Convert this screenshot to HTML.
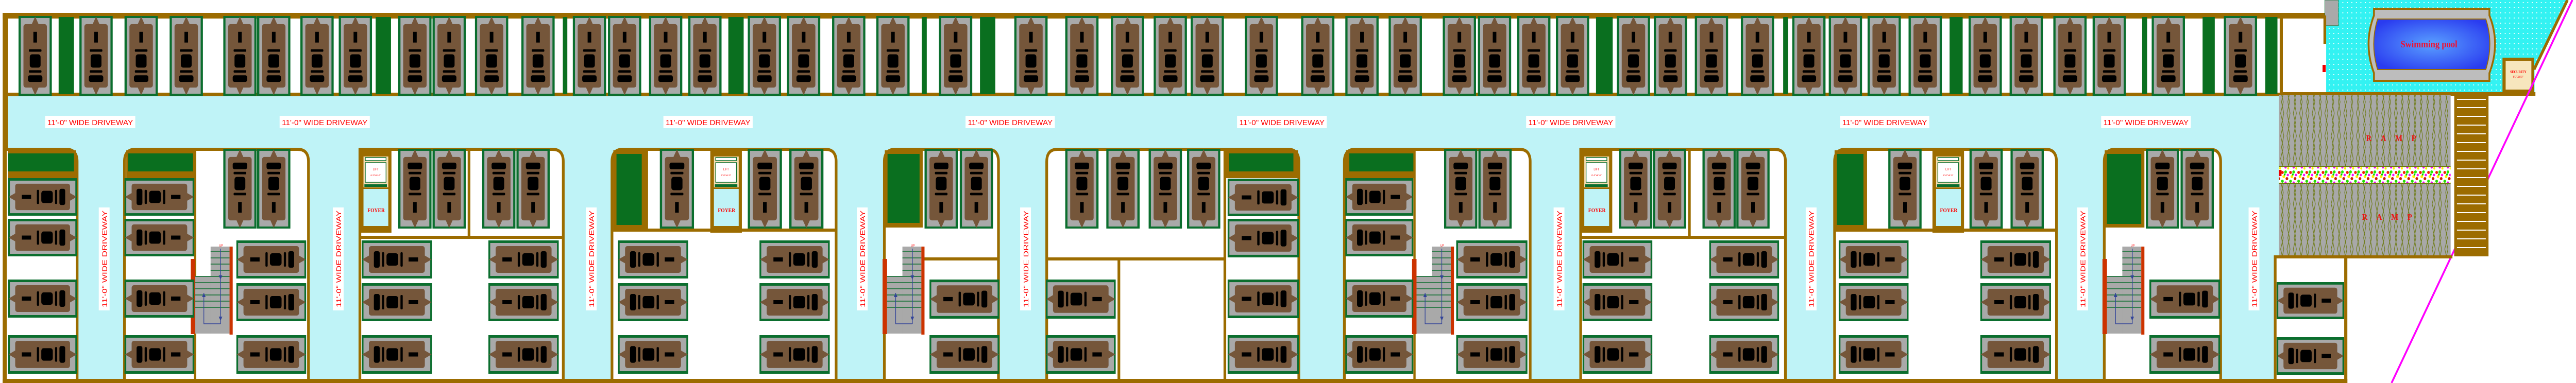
<!DOCTYPE html>
<html><head><meta charset="utf-8"><style>
html,body{margin:0;padding:0;background:#fff;width:100%;height:100%;overflow:hidden}
svg{display:block;overflow:hidden;width:100%;height:100%}
.lb{font-family:"Liberation Sans",Arial,sans-serif;font-size:15px;fill:#ff0000}
</style></head><body>
<svg xmlns="http://www.w3.org/2000/svg" viewBox="0 0 5712 744" preserveAspectRatio="none">
<defs>
<clipPath id="pageclip"><rect width="5712" height="744"/></clipPath>
<g id="cvg">
<rect width="74" height="156" fill="#0b6e2e"/>
<rect x="5" y="4" width="64" height="148" fill="#a9a9a9"/>
<rect x="11" y="16" width="52" height="124" rx="5" fill="#75563a"/>
<path d="M29 17 L37 1 L45 17Z M29 139 L37 155 L45 139Z" fill="#75563a"/>
<rect x="33" y="31" width="8" height="21" fill="#000"/>
<rect x="23" y="65" width="28" height="5" rx="2" fill="#000"/>
<rect x="25" y="75" width="24" height="26" rx="5" fill="#000"/>
<rect x="23" y="106" width="28" height="5" rx="2" fill="#000"/>
<rect x="21" y="116" width="32" height="13" rx="4" fill="#000"/>
</g>
<symbol id="cv" viewBox="0 0 74 156" preserveAspectRatio="none"><use href="#cvg"/></symbol>
<symbol id="cf" viewBox="0 0 74 156" preserveAspectRatio="none"><g transform="translate(0,156) scale(1,-1)"><use href="#cvg"/></g></symbol>
<symbol id="hl" viewBox="0 0 156 74" preserveAspectRatio="none"><g transform="translate(0,74) rotate(-90)"><use href="#cvg"/></g></symbol>
<symbol id="hr" viewBox="0 0 156 74" preserveAspectRatio="none"><g transform="translate(156,0) rotate(90)"><use href="#cvg"/></g></symbol>
<g id="stair">
<rect x="0" y="24" width="10" height="146" fill="#cc3300"/>
<rect x="10" y="57" width="76" height="112" fill="#a9a9a9"/>
<rect x="44" y="0" width="42" height="169" fill="#a9a9a9"/>
<g stroke="#0b6e2e" stroke-width="1.5">
<line x1="44" y1="10" x2="86" y2="10"/><line x1="44" y1="22" x2="86" y2="22"/><line x1="44" y1="34" x2="86" y2="34"/><line x1="44" y1="46" x2="86" y2="46"/>
<line x1="10" y1="58" x2="86" y2="58"/><line x1="10" y1="70" x2="86" y2="70"/><line x1="10" y1="82" x2="86" y2="82"/><line x1="10" y1="94" x2="86" y2="94"/><line x1="10" y1="106" x2="86" y2="106"/><line x1="10" y1="118" x2="86" y2="118"/>
</g>
<rect x="86" y="0" width="7" height="171" fill="#cc3300"/>
<path d="M66 4 V150 M29 90 V150 H66" fill="none" stroke="#334499" stroke-width="1.5"/>
<path d="M62 56 L66 64 L70 56Z M62 136 L66 144 L70 136Z M25 98 L29 90 L33 98Z" fill="#334499"/>
<text x="63" y="0" font-family="Liberation Sans,sans-serif" font-size="6" fill="#f00">UP</text>
</g>
<g id="lift">
<rect x="0" y="0" width="70" height="160" fill="#9c6c00"/>
<rect x="8" y="12" width="55" height="60" fill="#f5deb3"/>
<rect x="12" y="14" width="46" height="6" fill="#fff" stroke="#0b6e2e" stroke-width="1.5"/>
<rect x="12" y="24" width="46" height="38" fill="#fff" stroke="#0b6e2e" stroke-width="1.5"/>
<text x="35" y="39" text-anchor="middle" font-family="Liberation Sans,sans-serif" font-size="6" fill="#f00">LIFT</text>
<text x="35" y="50" text-anchor="middle" font-family="Liberation Sans,sans-serif" font-size="5" fill="#f00">6'-0"x6'-0"</text>
<rect x="10" y="66" width="50" height="5" fill="#0b6e2e"/>
<rect x="8" y="75" width="55" height="72" fill="#bff3f7"/>
<text x="36" y="120" text-anchor="middle" font-family="Liberation Serif,serif" font-weight="bold" font-size="11" fill="#f00">FOYER</text>
</g>
<pattern id="wave" width="14" height="44" patternUnits="userSpaceOnUse">
<rect width="14" height="44" fill="#a8a8a8"/>
<path d="M3 0 L9 22 L3 44 M10 0 L5 22 L10 44" fill="none" stroke="#6b7a10" stroke-width="1.2"/>
</pattern>
<pattern id="flw" width="18" height="30" patternUnits="userSpaceOnUse">
<rect width="18" height="30" fill="#fff"/>
<circle cx="3" cy="5" r="3" fill="#ee2200"/><circle cx="10" cy="4" r="3" fill="#22ee00"/><circle cx="15" cy="10" r="2.5" fill="#ff00ff"/>
<circle cx="6" cy="13" r="3" fill="#ffee00"/><circle cx="13" cy="17" r="3" fill="#cc2200"/><circle cx="3" cy="22" r="3" fill="#22dd00"/>
<circle cx="10" cy="25" r="2.5" fill="#ee00ee"/><circle cx="16" cy="27" r="2.5" fill="#ffee00"/><circle cx="8" cy="9" r="2" fill="#00cc00"/>
</pattern>
<pattern id="dots" width="10" height="10" patternUnits="userSpaceOnUse">
<rect width="10" height="10" fill="#33f2f2"/><rect x="4" y="4" width="2" height="2" fill="#fff"/>
</pattern>
<radialGradient id="pg" cx="0.5" cy="0.5" r="0.6">
<stop offset="0" stop-color="#5aa0ff"/><stop offset="1" stop-color="#2a3cf0"/>
</radialGradient>
</defs>
<g clip-path="url(#pageclip)">

<rect x="18" y="187" width="5035" height="550" fill="#bff3f7"/>

<rect x="18" y="36" width="5040" height="144" fill="#fff"/>
<rect x="6" y="25" width="5155" height="11" fill="#9c6c00"/>
<rect x="6" y="25" width="12" height="719" fill="#9c6c00"/>
<rect x="18" y="180" width="5040" height="7" fill="#9c6c00"/>
<rect x="5055" y="30" width="7" height="157" fill="#9c6c00"/>

<g fill="#0a6f1f">
<rect x="130" y="33" width="34" height="150"/><rect x="833" y="33" width="34" height="150"/><rect x="1248" y="33" width="10" height="150"/>
<rect x="1615" y="33" width="34" height="150"/><rect x="2044" y="33" width="11" height="150"/><rect x="2173" y="33" width="34" height="150"/>
<rect x="3539" y="33" width="37" height="150"/><rect x="3954" y="33" width="11" height="150"/><rect x="4323" y="33" width="29" height="150"/>
<rect x="4750" y="33" width="11" height="150"/><rect x="4884" y="33" width="27" height="150"/><rect x="5023" y="33" width="27" height="150"/>
</g>
<g>
<use href="#cv" x="41" y="31" width="74" height="155"/><use href="#cv" x="176" y="31" width="74" height="155"/><use href="#cv" x="276" y="31" width="74" height="155"/><use href="#cv" x="376" y="31" width="74" height="155"/>
<use href="#cv" x="495" y="31" width="74" height="155"/><use href="#cv" x="570" y="31" width="74" height="155"/><use href="#cv" x="666" y="31" width="74" height="155"/><use href="#cv" x="751" y="31" width="74" height="155"/>
<use href="#cv" x="883" y="31" width="74" height="155"/><use href="#cv" x="959" y="31" width="74" height="155"/><use href="#cv" x="1053" y="31" width="74" height="155"/><use href="#cv" x="1156" y="31" width="74" height="155"/>
<use href="#cv" x="1270" y="31" width="74" height="155"/><use href="#cv" x="1348" y="31" width="74" height="155"/><use href="#cv" x="1439" y="31" width="74" height="155"/><use href="#cv" x="1526" y="31" width="74" height="155"/>
<use href="#cv" x="1658" y="31" width="74" height="155"/><use href="#cv" x="1745" y="31" width="74" height="155"/><use href="#cv" x="1845" y="31" width="74" height="155"/><use href="#cv" x="1943" y="31" width="74" height="155"/>
<use href="#cv" x="2082" y="31" width="74" height="155"/><use href="#cv" x="2249" y="31" width="74" height="155"/><use href="#cv" x="2362" y="31" width="74" height="155"/><use href="#cv" x="2463" y="31" width="74" height="155"/>
<use href="#cv" x="2558" y="31" width="74" height="155"/><use href="#cv" x="2640" y="31" width="74" height="155"/><use href="#cv" x="2760" y="31" width="74" height="155"/><use href="#cv" x="2885" y="31" width="74" height="155"/>
<use href="#cv" x="2983" y="31" width="74" height="155"/><use href="#cv" x="3079" y="31" width="74" height="155"/><use href="#cv" x="3199" y="31" width="74" height="155"/><use href="#cv" x="3277" y="31" width="74" height="155"/>
<use href="#cv" x="3364" y="31" width="74" height="155"/><use href="#cv" x="3450" y="31" width="74" height="155"/><use href="#cv" x="3585" y="31" width="74" height="155"/><use href="#cv" x="3667" y="31" width="74" height="155"/>
<use href="#cv" x="3758" y="31" width="74" height="155"/><use href="#cv" x="3860" y="31" width="74" height="155"/><use href="#cv" x="3974" y="31" width="74" height="155"/><use href="#cv" x="4055" y="31" width="74" height="155"/>
<use href="#cv" x="4141" y="31" width="74" height="155"/><use href="#cv" x="4232" y="31" width="74" height="155"/><use href="#cv" x="4365" y="31" width="74" height="155"/><use href="#cv" x="4456" y="31" width="74" height="155"/>
<use href="#cv" x="4553" y="31" width="74" height="155"/><use href="#cv" x="4640" y="31" width="74" height="155"/><use href="#cv" x="4771" y="31" width="74" height="155"/><use href="#cv" x="4931" y="31" width="74" height="155"/>
</g>

<g>
<rect x="100" y="225" width="200" height="24" fill="#fff"/><text class="lb" x="105" y="243" textLength="190" lengthAdjust="spacingAndGlyphs">11'-0" WIDE DRIVEWAY</text>
<rect x="620" y="225" width="200" height="24" fill="#fff"/><text class="lb" x="625" y="243" textLength="190" lengthAdjust="spacingAndGlyphs">11'-0" WIDE DRIVEWAY</text>
<rect x="1471" y="225" width="198" height="24" fill="#fff"/><text class="lb" x="1476" y="243" textLength="188" lengthAdjust="spacingAndGlyphs">11'-0" WIDE DRIVEWAY</text>
<rect x="2141" y="225" width="198" height="24" fill="#fff"/><text class="lb" x="2146" y="243" textLength="188" lengthAdjust="spacingAndGlyphs">11'-0" WIDE DRIVEWAY</text>
<rect x="2743" y="225" width="199" height="24" fill="#fff"/><text class="lb" x="2748" y="243" textLength="189" lengthAdjust="spacingAndGlyphs">11'-0" WIDE DRIVEWAY</text>
<rect x="3384" y="225" width="198" height="24" fill="#fff"/><text class="lb" x="3389" y="243" textLength="188" lengthAdjust="spacingAndGlyphs">11'-0" WIDE DRIVEWAY</text>
<rect x="4080" y="225" width="198" height="24" fill="#fff"/><text class="lb" x="4085" y="243" textLength="188" lengthAdjust="spacingAndGlyphs">11'-0" WIDE DRIVEWAY</text>
<rect x="4659" y="225" width="199" height="24" fill="#fff"/><text class="lb" x="4664" y="243" textLength="189" lengthAdjust="spacingAndGlyphs">11'-0" WIDE DRIVEWAY</text>
</g>

<g fill="#fff" stroke="#9c6c00" stroke-width="6">
<path d="M12,740 V290 H147 Q171,290 171,314 V740"/>
<path d="M276,740 V314 Q276,290 300,290 H660 Q684,290 684,314 V740"/>
<path d="M798,740 V290 H1225 Q1249,290 1249,314 V740"/>
<path d="M1357,740 V314 Q1357,290 1381,290 H1830 Q1854,290 1854,314 V740"/>
<path d="M1961,740 V314 Q1961,290 1985,290 H2190 Q2214,290 2214,314 V740"/>
<path d="M2321,740 V314 Q2321,290 2345,290 H2856 Q2880,290 2880,314 V740"/>
<path d="M2981,740 V314 Q2981,290 3005,290 H3369 Q3393,290 3393,314 V740"/>
<path d="M3505,740 V290 H3935 Q3959,290 3959,314 V740"/>
<path d="M4068,740 V314 Q4068,290 4092,290 H4536 Q4560,290 4560,314 V740"/>
<path d="M4666,740 V314 Q4666,290 4690,290 H4900 Q4924,290 4924,314 V740"/>
</g>
<g fill="#9c6c00">
<rect x="18" y="292" width="150" height="54"/><rect x="280" y="292" width="153" height="54"/>
<rect x="2716" y="292" width="162" height="54"/><rect x="2984" y="292" width="154" height="54"/>
<rect x="430" y="292" width="5" height="444"/><rect x="3134" y="292" width="5" height="444"/>
<rect x="2713" y="292" width="6" height="444"/>
<rect x="798" y="458" width="451" height="6"/><rect x="1037" y="292" width="6" height="170"/>
<rect x="1360" y="292" width="77" height="155"/><rect x="1360" y="444" width="494" height="6"/>
<rect x="1962" y="292" width="84" height="150"/><rect x="2046" y="500" width="168" height="6"/>
<rect x="2321" y="500" width="395" height="6"/><rect x="2478" y="500" width="6" height="236"/>
<rect x="3505" y="458" width="454" height="6"/><rect x="3743" y="292" width="6" height="170"/>
<rect x="4068" y="292" width="72" height="155"/><rect x="4068" y="444" width="492" height="6"/>
<rect x="4667" y="292" width="88" height="150"/>
</g>
<g fill="#0a6f1f">
<rect x="18" y="298" width="146" height="35"/><rect x="284" y="298" width="144" height="35"/>
<rect x="2725" y="298" width="143" height="35"/><rect x="2992" y="298" width="142" height="35"/>
<rect x="1367" y="299" width="56" height="138"/><rect x="1968" y="299" width="71" height="134"/>
<rect x="4073" y="299" width="59" height="138"/><rect x="4672" y="299" width="76" height="136"/>
</g>
<use href="#lift" x="798" y="292"/><use href="#lift" x="1575" y="292"/><use href="#lift" x="3505" y="292"/><use href="#lift" x="4285" y="292"/>
<use href="#stair" x="423" y="479"/><use href="#stair" x="1957" y="479"/><use href="#stair" x="3131" y="479"/><use href="#stair" x="4662" y="479"/>

<g>
<use href="#cf" x="495" y="289" width="74" height="155"/><use href="#cf" x="570" y="289" width="74" height="155"/>
<use href="#cf" x="883" y="289" width="74" height="155"/><use href="#cf" x="959" y="289" width="74" height="155"/><use href="#cf" x="1069" y="289" width="74" height="155"/><use href="#cf" x="1145" y="289" width="74" height="155"/>
<use href="#cf" x="1463" y="289" width="76" height="155"/><use href="#cf" x="1658" y="289" width="76" height="155"/><use href="#cf" x="1750" y="289" width="76" height="155"/>
<use href="#cf" x="2050" y="289" width="74" height="155"/><use href="#cf" x="2128" y="289" width="74" height="155"/>
<use href="#cf" x="2362" y="289" width="74" height="155"/><use href="#cf" x="2453" y="289" width="74" height="155"/><use href="#cf" x="2547" y="289" width="74" height="155"/><use href="#cf" x="2632" y="289" width="74" height="155"/>
<use href="#cf" x="3202" y="289" width="74" height="155"/><use href="#cf" x="3278" y="289" width="74" height="155"/>
<use href="#cf" x="3590" y="289" width="74" height="155"/><use href="#cf" x="3665" y="289" width="74" height="155"/><use href="#cf" x="3775" y="289" width="74" height="155"/><use href="#cf" x="3850" y="289" width="74" height="155"/>
<use href="#cf" x="4187" y="289" width="74" height="155"/><use href="#cf" x="4367" y="289" width="74" height="155"/><use href="#cf" x="4458" y="289" width="74" height="155"/>
<use href="#cf" x="4758" y="289" width="74" height="155"/><use href="#cf" x="4835" y="289" width="74" height="155"/>
</g>
<g>
<use href="#hl" x="18" y="346" width="153" height="73"/><use href="#hl" x="18" y="425" width="153" height="73"/><use href="#hl" x="18" y="543" width="153" height="74"/><use href="#hl" x="18" y="651" width="153" height="75"/>
<use href="#hr" x="276" y="346" width="155" height="73"/><use href="#hr" x="276" y="425" width="155" height="73"/><use href="#hr" x="276" y="543" width="155" height="74"/><use href="#hr" x="276" y="651" width="155" height="75"/>
<use href="#hl" x="524" y="467" width="155" height="74"/><use href="#hl" x="524" y="550" width="155" height="74"/><use href="#hl" x="524" y="651" width="155" height="75"/>
<use href="#hr" x="802" y="467" width="156" height="74"/><use href="#hr" x="802" y="550" width="156" height="74"/><use href="#hr" x="802" y="651" width="156" height="75"/>
<use href="#hl" x="1083" y="467" width="156" height="74"/><use href="#hl" x="1083" y="550" width="156" height="74"/><use href="#hl" x="1083" y="651" width="156" height="75"/>
<use href="#hr" x="1370" y="467" width="156" height="74"/><use href="#hr" x="1370" y="550" width="156" height="74"/><use href="#hr" x="1370" y="651" width="156" height="75"/>
<use href="#hl" x="1684" y="467" width="156" height="74"/><use href="#hl" x="1684" y="550" width="156" height="74"/><use href="#hl" x="1684" y="651" width="156" height="75"/>
<use href="#hl" x="2061" y="543" width="155" height="76"/><use href="#hl" x="2061" y="651" width="155" height="75"/>
<use href="#hr" x="2319" y="543" width="155" height="76"/><use href="#hr" x="2319" y="651" width="155" height="75"/>
<use href="#hl" x="2722" y="347" width="158" height="73"/><use href="#hl" x="2722" y="425" width="158" height="75"/><use href="#hl" x="2722" y="543" width="158" height="75"/><use href="#hl" x="2722" y="651" width="158" height="75"/>
<use href="#hr" x="2983" y="346" width="151" height="73"/><use href="#hr" x="2983" y="425" width="151" height="73"/><use href="#hr" x="2983" y="543" width="151" height="74"/><use href="#hr" x="2983" y="651" width="151" height="75"/>
<use href="#hl" x="3229" y="467" width="158" height="74"/><use href="#hl" x="3229" y="550" width="158" height="74"/><use href="#hl" x="3229" y="651" width="158" height="75"/>
<use href="#hr" x="3509" y="467" width="155" height="74"/><use href="#hr" x="3509" y="550" width="155" height="74"/><use href="#hr" x="3509" y="651" width="155" height="75"/>
<use href="#hl" x="3790" y="467" width="155" height="74"/><use href="#hl" x="3790" y="550" width="155" height="74"/><use href="#hl" x="3790" y="651" width="155" height="75"/>
<use href="#hr" x="4077" y="467" width="155" height="74"/><use href="#hr" x="4077" y="550" width="155" height="74"/><use href="#hr" x="4077" y="651" width="155" height="75"/>
<use href="#hl" x="4391" y="467" width="157" height="74"/><use href="#hl" x="4391" y="550" width="157" height="74"/><use href="#hl" x="4391" y="651" width="157" height="75"/>
<use href="#hl" x="4766" y="543" width="157" height="76"/><use href="#hl" x="4766" y="651" width="157" height="75"/>
</g>

<g>
<g transform="translate(231,503) rotate(-90)"><rect x="-100" y="-12" width="200" height="24" fill="#fff"/><text class="lb" x="0" y="6" text-anchor="middle" textLength="188" lengthAdjust="spacingAndGlyphs" font-size="16">11'-0" WIDE DRIVEWAY</text></g>
<g transform="translate(750,503) rotate(-90)"><rect x="-100" y="-12" width="200" height="24" fill="#fff"/><text class="lb" x="0" y="6" text-anchor="middle" textLength="188" lengthAdjust="spacingAndGlyphs" font-size="16">11'-0" WIDE DRIVEWAY</text></g>
<g transform="translate(1311,503) rotate(-90)"><rect x="-100" y="-12" width="200" height="24" fill="#fff"/><text class="lb" x="0" y="6" text-anchor="middle" textLength="188" lengthAdjust="spacingAndGlyphs" font-size="16">11'-0" WIDE DRIVEWAY</text></g>
<g transform="translate(1912,503) rotate(-90)"><rect x="-100" y="-12" width="200" height="24" fill="#fff"/><text class="lb" x="0" y="6" text-anchor="middle" textLength="188" lengthAdjust="spacingAndGlyphs" font-size="16">11'-0" WIDE DRIVEWAY</text></g>
<g transform="translate(2274,503) rotate(-90)"><rect x="-100" y="-12" width="200" height="24" fill="#fff"/><text class="lb" x="0" y="6" text-anchor="middle" textLength="188" lengthAdjust="spacingAndGlyphs" font-size="16">11'-0" WIDE DRIVEWAY</text></g>
<g transform="translate(3457,503) rotate(-90)"><rect x="-100" y="-12" width="200" height="24" fill="#fff"/><text class="lb" x="0" y="6" text-anchor="middle" textLength="188" lengthAdjust="spacingAndGlyphs" font-size="16">11'-0" WIDE DRIVEWAY</text></g>
<g transform="translate(4016,503) rotate(-90)"><rect x="-100" y="-12" width="200" height="24" fill="#fff"/><text class="lb" x="0" y="6" text-anchor="middle" textLength="188" lengthAdjust="spacingAndGlyphs" font-size="16">11'-0" WIDE DRIVEWAY</text></g>
<g transform="translate(4618,503) rotate(-90)"><rect x="-100" y="-12" width="200" height="24" fill="#fff"/><text class="lb" x="0" y="6" text-anchor="middle" textLength="188" lengthAdjust="spacingAndGlyphs" font-size="16">11'-0" WIDE DRIVEWAY</text></g>
<g transform="translate(4998,503) rotate(-90)"><rect x="-100" y="-12" width="200" height="24" fill="#fff"/><text class="lb" x="0" y="6" text-anchor="middle" textLength="188" lengthAdjust="spacingAndGlyphs" font-size="16">11'-0" WIDE DRIVEWAY</text></g>
</g>

<rect x="5062" y="36" width="93" height="144" fill="#fff"/>
<polygon points="5158,0 5695,0 5620,132 5620,182 5158,182" fill="url(#dots)"/>
<rect x="5155" y="0" width="30" height="50" fill="#a9a9a9" stroke="#0b6e2e" stroke-width="1"/>
<rect x="5152" y="30" width="6" height="55" fill="#9c6c00"/>
<rect x="5150" y="126" width="7" height="14" fill="#e00"/>
<line x1="5693" y1="0" x2="5619" y2="135" stroke="#9c6c00" stroke-width="6"/>
<rect x="5062" y="179" width="560" height="7" fill="#9c6c00"/>
<path d="M5264,17 H5520 V30 Q5545,85 5520,142 V157 H5264 V142 Q5240,85 5264,30Z" fill="#bdbdbd" stroke="#9c6c00" stroke-width="4"/>
<path d="M5272,37 H5512 Q5530,85 5512,135 H5272 Q5255,85 5272,37Z" fill="url(#pg)" stroke="#9c6c00" stroke-width="2"/>
<text x="5386" y="92" text-anchor="middle" font-family="Liberation Serif,serif" font-weight="bold" font-size="19" fill="#ee1133">Swimming pool</text>
<rect x="5549" y="112" width="70" height="70" fill="#9c6c00"/>
<rect x="5556" y="118" width="57" height="56" fill="#f7e6bd"/>
<text x="5584" y="142" text-anchor="middle" font-family="Liberation Serif,serif" font-weight="bold" font-size="7" fill="#f00">SECURITY</text>
<text x="5584" y="151" text-anchor="middle" font-family="Liberation Serif,serif" font-size="6" fill="#f00">8'0"X8'0"</text>
<line x1="5704" y1="0" x2="5303" y2="744" stroke="#ff00ff" stroke-width="4"/>
<rect x="5053" y="185" width="381" height="138" fill="url(#wave)"/>
<rect x="5053" y="323" width="381" height="33" fill="url(#flw)"/>
<rect x="5053" y="357" width="381" height="140" fill="url(#wave)"/>
<line x1="5053" y1="323" x2="5434" y2="323" stroke="#6b7a10" stroke-width="2"/>
<line x1="5053" y1="356" x2="5434" y2="356" stroke="#6b7a10" stroke-width="2"/>
<rect x="5053" y="330" width="6" height="12" fill="#e00"/>
<text x="5312" y="274" text-anchor="middle" font-family="Liberation Serif,serif" font-weight="bold" font-size="17" fill="#ee1111" letter-spacing="20">RAMP</text>
<text x="5303" y="427" text-anchor="middle" font-family="Liberation Serif,serif" font-weight="bold" font-size="17" fill="#ee1111" letter-spacing="20">RAMP</text>
<rect x="5442" y="185" width="76" height="313" fill="#9c6c00"/>
<g fill="#fff">
<rect x="5448" y="192" width="64" height="2"/><rect x="5448" y="208" width="64" height="2"/><rect x="5448" y="225" width="64" height="2"/><rect x="5448" y="242" width="64" height="2"/>
<rect x="5448" y="259" width="64" height="2"/><rect x="5448" y="276" width="64" height="2"/><rect x="5448" y="293" width="64" height="2"/><rect x="5448" y="310" width="64" height="2"/>
<rect x="5448" y="327" width="64" height="2"/><rect x="5448" y="344" width="64" height="2"/><rect x="5448" y="361" width="64" height="2"/><rect x="5448" y="378" width="64" height="2"/>
<rect x="5448" y="395" width="64" height="2"/><rect x="5448" y="412" width="64" height="2"/><rect x="5448" y="429" width="64" height="2"/><rect x="5448" y="446" width="64" height="2"/>
<rect x="5448" y="463" width="64" height="2"/><rect x="5448" y="480" width="64" height="2"/>
</g>
<rect x="5042" y="496" width="396" height="6" fill="#9c6c00"/>
<rect x="5045" y="502" width="153" height="234" fill="#fff"/>
<rect x="5042" y="496" width="6" height="248" fill="#9c6c00"/>
<rect x="5198" y="496" width="7" height="248" fill="#9c6c00"/>
<use href="#hr" x="5048" y="548" width="150" height="72"/><use href="#hr" x="5048" y="655" width="150" height="73"/>
<rect x="6" y="736" width="5199" height="8" fill="#9c6c00"/>
</g>
</svg>
</body></html>
